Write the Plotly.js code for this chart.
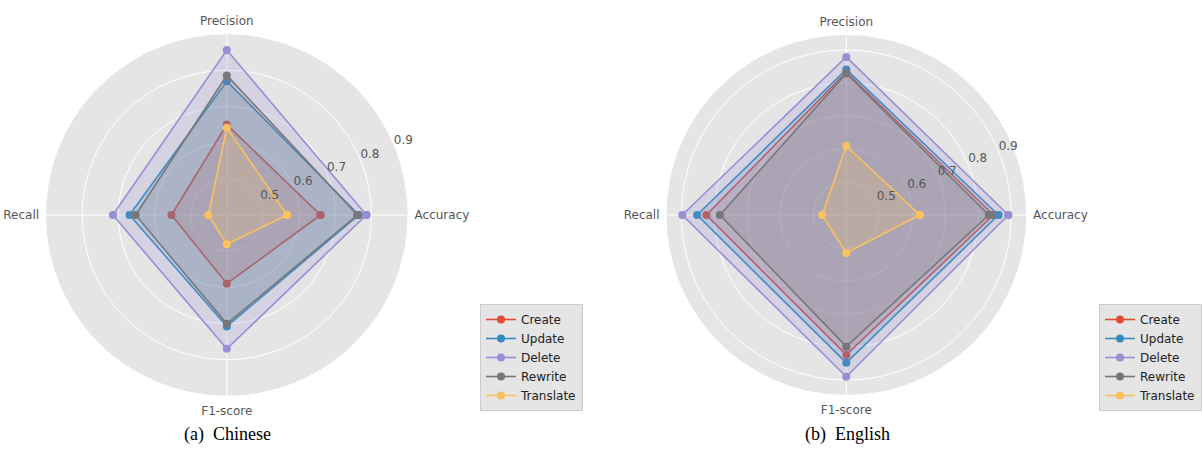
<!DOCTYPE html>
<html>
<head>
<meta charset="utf-8">
<script src="https://cdn.plot.ly/plotly-3.0.1.min.js"></script>
<style>html,body{margin:0;padding:0;background:#fff;}#chart{width:1202px;height:471px;}</style>
</head>
<body>
<div id="chart"></div>
<script>
var categories = ['Accuracy', 'Precision', 'Recall', 'F1-score'];
var seriesNames = ['Create', 'Update', 'Delete', 'Rewrite', 'Translate'];
var radialTicks = [0.5, 0.6, 0.7, 0.8, 0.9];
var subtitles = ['(a)  Chinese', '(b)  English'];

// Chinese (values in order Accuracy, Precision, Recall, F1-score)
var zhCreate    = [0.659, 0.650, 0.553, 0.590];
var zhUpdate    = [0.765, 0.770, 0.669, 0.708];
var zhDelete    = [0.786, 0.856, 0.715, 0.770];
var zhRewrite   = [0.761, 0.786, 0.652, 0.701];
var zhTranslate = [0.567, 0.641, 0.451, 0.481];

// English
var enCreate    = [0.846, 0.833, 0.824, 0.824];
var enUpdate    = [0.861, 0.841, 0.852, 0.848];
var enDelete    = [0.891, 0.879, 0.897, 0.890];
var enRewrite   = [0.832, 0.829, 0.783, 0.799];
var enTranslate = [0.623, 0.609, 0.473, 0.515];

var colors = ['#E24A33', '#348ABD', '#988ED5', '#777777', '#FBC15E'];
var fills = ['rgba(226,74,51,0.2)', 'rgba(52,138,189,0.2)', 'rgba(152,142,213,0.2)', 'rgba(119,119,119,0.2)', 'rgba(251,193,94,0.2)'];

var zhData = [zhCreate, zhUpdate, zhDelete, zhRewrite, zhTranslate];
var enData = [enCreate, enUpdate, enDelete, enRewrite, enTranslate];

function closeLoop(a) { return a.concat([a[0]]); }

var traces = [];
function addSet(data, subplot, legend) {
  data.forEach(function (vals, i) {
    traces.push({
      type: 'scatterpolar', subplot: subplot,
      r: closeLoop(vals), theta: closeLoop(categories),
      mode: 'none', fill: 'toself', fillcolor: fills[i],
      showlegend: false, hoverinfo: 'skip'
    });
    traces.push({
      type: 'scatterpolar', subplot: subplot, legend: legend,
      r: closeLoop(vals), theta: closeLoop(categories),
      mode: 'lines+markers', name: seriesNames[i],
      line: {color: colors[i], width: 1.6},
      marker: {color: colors[i], size: 8}
    });
  });
}
addSet(zhData, 'polar', 'legend');
addSet(enData, 'polar2', 'legend2');

function polarAxes(domainX, domainY, rmax) {
  return {
    domain: {x: domainX, y: domainY},
    bgcolor: '#E5E5E5',
    radialaxis: {
      range: [0.4, rmax], angle: 22.5, tickangle: 22.5, side: 'clockwise',
      tickvals: radialTicks, showline: false, ticks: '',
      gridcolor: '#FFFFFF', gridwidth: 1,
      tickfont: {family: 'DejaVu Sans', size: 12, color: '#555555'}
    },
    angularaxis: {
      rotation: 0, direction: 'counterclockwise',
      gridcolor: '#FFFFFF', gridwidth: 1, showline: false,
      ticks: 'outside', ticklen: 4, tickcolor: 'rgba(0,0,0,0)',
      tickfont: {family: 'DejaVu Sans', size: 12, color: '#555555'}
    }
  };
}

var legendStyle = {
  bgcolor: '#E5E5E5', bordercolor: '#CCCCCC', borderwidth: 1,
  font: {family: 'DejaVu Sans', size: 12, color: '#222222'},
  xanchor: 'left', yanchor: 'top', tracegroupgap: 0, itemwidth: 30
};

var layout = {
  width: 1202, height: 471,
  margin: {l: 0, r: 0, t: 0, b: 0},
  paper_bgcolor: '#FFFFFF',
  polar: polarAxes([46 / 1202, 408 / 1202], [75 / 471, 437 / 471], 0.9),
  polar2: polarAxes([667 / 1202, 1027 / 1202], [76 / 471, 436 / 471], 0.945),
  legend: Object.assign({x: 480 / 1202, y: 1 - 304 / 471}, legendStyle),
  legend2: Object.assign({x: 1100 / 1202, y: 1 - 304 / 471}, legendStyle),
  annotations: [
    {text: subtitles[0], x: 228 / 1202, y: 1 - 434 / 471, xref: 'paper', yref: 'paper', showarrow: false, xanchor: 'center', yanchor: 'middle', font: {family: 'Liberation Serif', size: 18, color: '#000'}},
    {text: subtitles[1], x: 848 / 1202, y: 1 - 434 / 471, xref: 'paper', yref: 'paper', showarrow: false, xanchor: 'center', yanchor: 'middle', font: {family: 'Liberation Serif', size: 18, color: '#000'}}
  ],
  showlegend: true
};

Plotly.newPlot('chart', traces, layout, {displayModeBar: false, staticPlot: true}).then(function () {
  // lift radial tick labels above the 22.5° line, as matplotlib places them
  document.querySelectorAll('#chart .radial-axis text').forEach(function (t) {
    var tr = t.getAttribute('transform') || '';
    t.setAttribute('transform', 'translate(3,-14) ' + tr);
  });
});
</script>
</body>
</html>
